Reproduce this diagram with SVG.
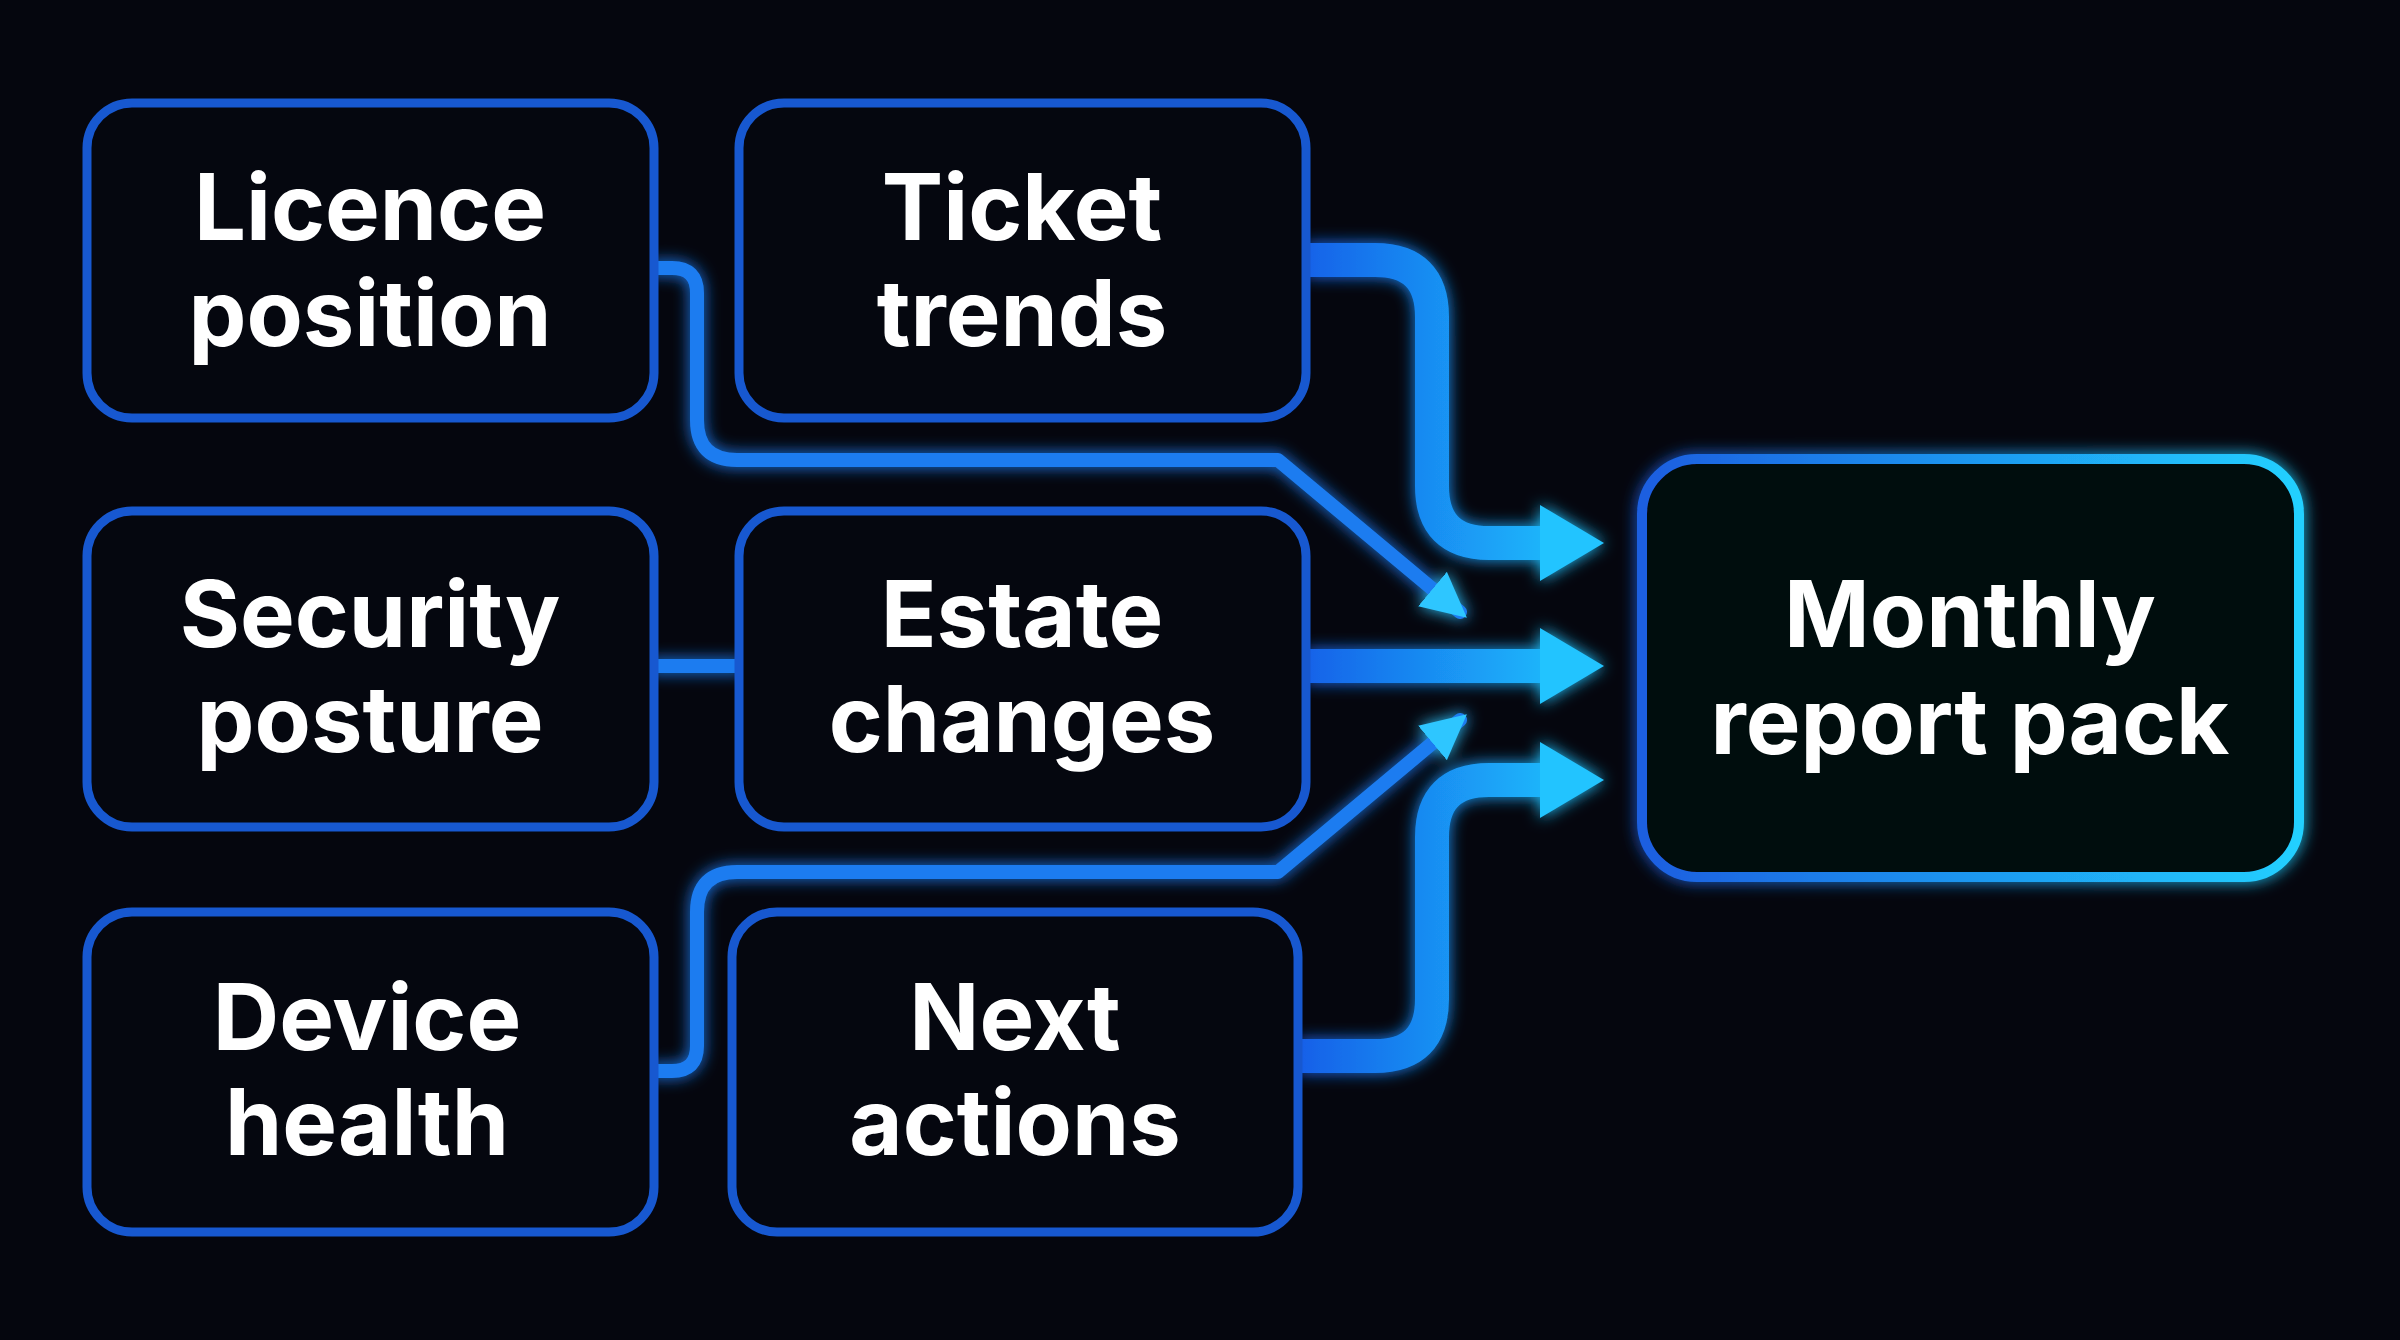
<svg xmlns="http://www.w3.org/2000/svg" width="2400" height="1340" viewBox="0 0 2400 1340">
<defs>
<style>
.node rect{fill:#05070f;stroke:#1758d0;stroke-width:9}
.t{font-family:"Inter","Liberation Sans",sans-serif;font-weight:700;font-size:92px;fill:#fff;text-anchor:middle}
.thin{fill:none;stroke:#1f7cf0;stroke-width:14;stroke-linecap:round;stroke-linejoin:round}
.thick{fill:none;stroke:url(#ag);stroke-width:34;stroke-linejoin:round}
</style>
<linearGradient id="ag" gradientUnits="userSpaceOnUse" x1="1300" y1="0" x2="1600" y2="0"><stop offset="0" stop-color="#1560e8"/><stop offset="1" stop-color="#1ec8ff"/></linearGradient>
<linearGradient id="bg" x1="0" y1="0" x2="1" y2="0"><stop offset="0" stop-color="#1a5ee0"/><stop offset="1" stop-color="#22d0ff"/></linearGradient>
<filter id="glow" x="-20%" y="-20%" width="140%" height="140%"><feGaussianBlur stdDeviation="8" result="b"/><feMerge><feMergeNode in="b"/><feMergeNode in="SourceGraphic"/></feMerge></filter>
<marker id="ah" viewBox="0 0 10 10" refX="8" refY="5" markerWidth="3.2" markerHeight="3.2" orient="auto"><path d="M0,0L10,5L0,10z" fill="#2fc6ff"/></marker>
</defs>
<rect width="2400" height="1340" fill="#05060e"/>
<g id="connectors" filter="url(#glow)">
<path class="thin" d="M654,268 H672 Q697,268 697,293 V420 Q697,460 737,460 H1278 L1460,612" marker-end="url(#ah)"/>
<path class="thin" d="M654,1071 H672 Q697,1071 697,1046 V912 Q697,872 737,872 H1278 L1460,720" marker-end="url(#ah)"/>
<path class="thin" d="M654,666 H739"/>
<path class="thick" d="M1306,260 H1375 Q1432,260 1432,317 V486 Q1432,543 1489,543 H1545"/>
<path d="M1540,505 L1604,543 L1540,581z" fill="#22c4ff"/>
<path class="thick" d="M1306,666 H1545"/>
<path d="M1540,628 L1604,666 L1540,704z" fill="#22c4ff"/>
<path class="thick" d="M1298,1056 H1375 Q1432,1056 1432,999 V837 Q1432,780 1489,780 H1545"/>
<path d="M1540,742 L1604,780 L1540,818z" fill="#22c4ff"/>
</g>
<g id="licence" class="node"><rect x="87" y="103" width="567" height="315" rx="45"/><text class="t" x="370" y="240">Licence</text><text class="t" x="370" y="346">position</text></g>
<g id="ticket" class="node"><rect x="739" y="103" width="567" height="315" rx="45"/><text class="t" x="1022" y="240">Ticket</text><text class="t" x="1022" y="346">trends</text></g>
<g id="security" class="node"><rect x="87" y="511" width="567" height="316" rx="45"/><text class="t" x="370" y="647">Security</text><text class="t" x="370" y="752">posture</text></g>
<g id="estate" class="node"><rect x="739" y="511" width="567" height="316" rx="45"/><text class="t" x="1022" y="647">Estate</text><text class="t" x="1022" y="752">changes</text></g>
<g id="device" class="node"><rect x="87" y="912" width="567" height="320" rx="45"/><text class="t" x="367" y="1050">Device</text><text class="t" x="367" y="1155">health</text></g>
<g id="next" class="node"><rect x="732" y="912" width="566" height="320" rx="45"/><text class="t" x="1015" y="1050">Next</text><text class="t" x="1015" y="1155">actions</text></g>
<g id="monthly"><rect x="1642" y="459" width="657" height="418" rx="55" fill="#05070f" stroke="url(#bg)" stroke-width="10" filter="url(#glow)"/><text class="t" x="1970" y="647">Monthly</text><text class="t" x="1970" y="754">report pack</text></g>
</svg>
